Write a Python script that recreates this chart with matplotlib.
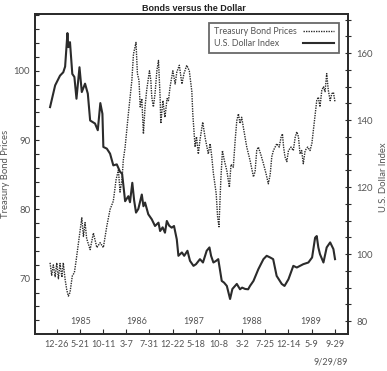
import matplotlib
matplotlib.use("Agg")
import matplotlib.pyplot as plt
from matplotlib.ticker import MultipleLocator

plt.rcParams['font.family'] = ['Lato', 'DejaVu Sans']

# x axis is in trading days from 12-26-84, one tick every 100 days
tick_days = list(range(0, 1201, 100))
tick_labels = ['12-26', '5-21', '10-11', '3-7', '7-31', '12-22', '5-18',
               '10-8', '3-2', '7-25', '12-14', '5-9', '9-29']
years = ['1985', '1986', '1987', '1988', '1989']
year_days = [105, 345, 592, 842, 1097]

# U.S. Dollar Index (right axis)
dollar_days = [-29, -7, 14, 28, 36, 46, 50, 57, 67, 76, 85, 98, 108, 122, 134,
               144, 165, 177, 188, 197, 201, 216, 230, 244, 259, 273, 282, 295,
               309, 316, 326, 334, 342, 352, 367, 374, 381, 395, 410, 424, 439,
               446, 457, 467, 475, 485, 496, 506, 518, 525, 540, 550, 564, 575,
               590, 601, 618, 631, 647, 659, 666, 676, 688, 697, 712, 722, 734,
               748, 758, 777, 791, 800, 813, 826, 834, 849, 870, 892, 906, 921,
               934, 949, 971, 983, 1000, 1021, 1036, 1050, 1064, 1086, 1102,
               1115, 1122, 1129, 1136, 1151, 1165, 1180, 1194, 1201]
dollar = [143.9, 150.4, 153.3, 154.3, 156.0, 166.0, 161.8, 163.3, 153.8, 152.9,
          146.4, 155.8, 148.4, 150.9, 147.9, 139.9, 139.0, 137.0, 145.1, 141.9,
          132.0, 131.5, 130.0, 126.5, 126.8, 124.6, 124.0, 115.8, 117.3, 115.5,
          121.3, 116.0, 112.4, 113.5, 117.8, 114.3, 115.4, 111.9, 110.4, 108.4,
          109.4, 106.9, 108.0, 106.4, 109.9, 108.5, 107.9, 108.4, 104.4, 99.5,
          100.5, 99.5, 101.0, 98.0, 96.5, 97.0, 98.5, 97.5, 101.0, 102.0, 99.5,
          97.5, 98.0, 98.5, 92.0, 91.5, 90.5, 86.6, 89.6, 91.1, 89.5, 90.0,
          89.6, 89.5, 90.5, 92.0, 95.5, 98.5, 99.5, 99.0, 98.5, 93.5, 91.1,
          90.5, 92.5, 96.5, 96.0, 96.5, 97.0, 97.5, 99.0, 104.9, 105.4, 102.0,
          100.0, 97.5, 102.0, 103.5, 101.5, 98.5]

# Treasury Bond Prices (left axis)
bond_days = [-29, -22, -15, -7, 0, 7, 14, 22, 28, 36, 43, 50, 57, 67, 76, 83,
             101, 108, 115, 122, 129, 144, 158, 173, 187, 201, 216, 230, 244,
             256, 266, 273, 282, 287, 295, 309, 324, 331, 342, 348, 355, 360,
             367, 374, 381, 388, 400, 406, 410, 417, 424, 432, 439, 446, 449,
             458, 467, 476, 482, 489, 501, 511, 518, 529, 540, 549, 561, 572,
             583, 587, 592, 597, 603, 611, 618, 630, 640, 654, 662, 669, 676,
             688, 694, 700, 708, 715, 723, 734, 745, 752, 762, 770, 777, 784,
             791, 798, 805, 820, 834, 849, 856, 863, 870, 880, 892, 903, 913,
             921, 928, 935, 950, 960, 968, 974, 979, 985, 993, 1000, 1011, 1021,
             1029, 1036, 1043, 1050, 1057, 1064, 1072, 1083, 1093, 1101, 1112,
             1122, 1129, 1136, 1144, 1151, 1158, 1165, 1172, 1180, 1187, 1194,
             1201]
bond = [72.3, 70.5, 72.0, 70.3, 72.3, 70.0, 72.2, 70.2, 72.3, 69.9, 68.4, 67.5,
        68.0, 70.4, 70.9, 72.5, 77.1, 78.8, 76.1, 78.1, 75.8, 74.2, 76.6, 74.5,
        75.2, 74.5, 77.6, 80.0, 81.2, 84.3, 85.7, 82.5, 84.5, 87.1, 89.0, 93.8,
        98.6, 102.4, 104.1, 99.6, 98.6, 94.8, 96.0, 90.9, 94.8, 97.2, 100.0,
        98.6, 96.2, 94.8, 96.7, 100.0, 101.5, 96.2, 92.4, 95.7, 93.3, 96.0,
        95.7, 97.7, 100.0, 98.1, 99.8, 100.8, 98.1, 99.6, 100.8, 100.0, 97.0,
        93.8, 91.5, 89.0, 90.5, 88.0, 90.0, 92.6, 90.4, 88.0, 89.5, 87.6, 85.2,
        82.3, 79.0, 77.5, 84.2, 88.5, 87.1, 85.6, 83.2, 86.5, 86.1, 90.0, 92.8,
        93.8, 92.4, 93.3, 91.9, 89.0, 87.1, 84.7, 85.5, 88.5, 89.0, 88.0, 86.6,
        85.2, 83.7, 85.0, 87.6, 88.5, 89.5, 89.0, 90.4, 90.9, 89.0, 87.6, 86.9,
        88.5, 89.0, 88.5, 90.4, 91.2, 90.5, 88.0, 88.5, 86.6, 88.5, 89.0, 88.5,
        89.5, 92.8, 95.7, 96.2, 94.8, 97.2, 97.7, 97.0, 99.6, 97.2, 95.7, 96.7,
        96.9, 95.5]

text_col = '#555555'
line_col = '#2b2b2b'

fig = plt.figure(figsize=(3.87, 3.71), dpi=100)
ax = fig.add_axes([35 / 387, 1 - 333.5 / 371, 313 / 387, 319.5 / 371])
ax2 = ax.twinx()

bond_line, = ax.plot(bond_days, bond, color=line_col, lw=1.0,
                     linestyle=(0, (1, 0.8)), label='Treasury Bond Prices')
dollar_line, = ax2.plot(dollar_days, dollar, color=line_col, lw=1.5,
                        label='U.S. Dollar Index')

ax.set_xlim(-94, 1257)
ax.set_ylim(62.1, 108.2)
ax2.set_ylim(76.3, 171.7)

ax.set_xticks(tick_days)
ax.set_xticklabels(tick_labels)
ax.yaxis.set_major_locator(MultipleLocator(10))
ax.yaxis.set_minor_locator(MultipleLocator(2))
ax2.yaxis.set_major_locator(MultipleLocator(20))
ax2.yaxis.set_minor_locator(MultipleLocator(5))

ax.tick_params(axis='x', direction='in', length=3.5, width=0.8, pad=5,
               labelsize=6.5, colors=line_col, labelcolor=text_col)
ax.tick_params(axis='y', which='both', direction='in', width=0.8, length=3,
               labelsize=6.8, colors=line_col, labelcolor=text_col)
ax2.tick_params(axis='y', which='both', direction='inout', width=0.8,
                length=5, labelsize=6.8, colors=line_col, labelcolor=text_col)

for sp in list(ax.spines.values()) + list(ax2.spines.values()):
    sp.set_color(line_col)
    sp.set_linewidth(1.3)

ax.set_ylabel('Treasury Bond Prices', fontsize=6.8, color=text_col)
ax.yaxis.set_label_coords(-0.08, 0.5)
ax2.set_ylabel('U.S. Dollar Index', fontsize=6.8, color=text_col)
ax2.yaxis.set_label_coords(1.1, 0.49)

for yr, d in zip(years, year_days):
    ax.text(d, 63.8, yr, ha='center', va='center', fontsize=6.5,
            color=text_col)

ax.text(1.0, -0.075, '9/29/89', transform=ax.transAxes, ha='right',
        va='top', fontsize=6.5, color=text_col)

fig.text(0.5, 0.99, 'Bonds versus the Dollar', ha='center', va='top',
         fontsize=6.5, fontweight='bold', family='Liberation Sans',
         color='#222222')

leg = ax.legend(handles=[bond_line, dollar_line], loc='upper right',
                bbox_to_anchor=(0.971, 0.972), borderaxespad=0,
                markerfirst=False, fancybox=False, fontsize=6.4,
                handlelength=3.5, labelcolor=text_col, borderpad=0.5,
                labelspacing=0.3)
leg.get_frame().set_edgecolor('#444444')
leg.get_frame().set_linewidth(1.3)

# left-align legend labels while keeping the line samples in one column
fig.canvas.draw()
rend = fig.canvas.get_renderer()
widths = [t.get_window_extent(rend).width * 72 / fig.dpi for t in leg.get_texts()]
col = leg._legend_handle_box.get_children()[0]
col.align = 'left'
for row, w in zip(col.get_children(), widths):
    row.sep += max(widths) - w

fig.savefig('out.png', dpi=100)
